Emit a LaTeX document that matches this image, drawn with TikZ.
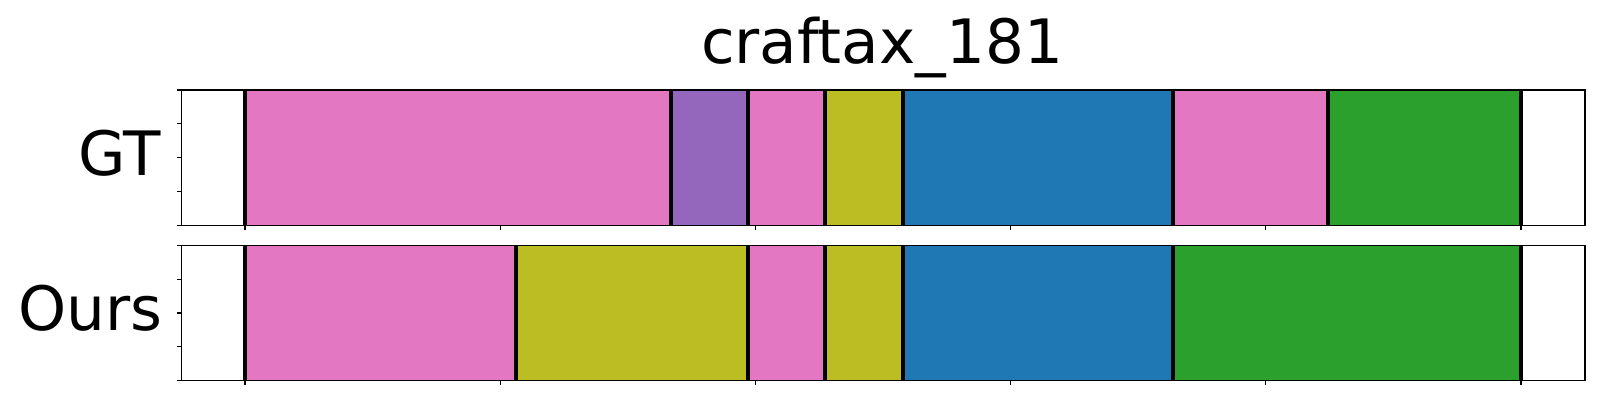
\documentclass[tikz,border=0pt]{standalone}
\usepackage{fontspec}
\setmainfont{DejaVu Sans}
\definecolor{tpink}{HTML}{E377C2}
\definecolor{tpurple}{HTML}{9467BD}
\definecolor{tolive}{HTML}{BCBD22}
\definecolor{tblue}{HTML}{1F77B4}
\definecolor{tgreen}{HTML}{2CA02C}
\tikzset{
  frame/.style={draw=black, line width=0.36pt},
  divider/.style={draw=black, line width=1.2pt},
  tickmark/.style={draw=black, line width=0.3pt},
  bigtext/.style={font=\fontsize{17.4pt}{20pt}\selectfont, inner sep=0pt},
}
\begin{document}
\begin{tikzpicture}[x=0.01cm,y=-0.01cm]
\useasboundingbox (0,0) rectangle (1600,400);
\fill[white] (0,0) rectangle (1600,400);

% title
\node[bigtext, anchor=base] (title) at (882,64) {craftax\_181};

% row labels
\node[bigtext, anchor=base east] (gtlab) at (162,175) {GT};
\node[bigtext, anchor=base east] (ourslab) at (163,330) {Ours};

% GT row segments
\def\gtop{90}\def\gbot{225.3}
\fill[tpink]   (244.7,\gtop) rectangle (671,\gbot);
\fill[tpurple] (671,\gtop) rectangle (747.7,\gbot);
\fill[tpink]   (747.7,\gtop) rectangle (825,\gbot);
\fill[tolive]  (825,\gtop) rectangle (903,\gbot);
\fill[tblue]   (903,\gtop) rectangle (1173,\gbot);
\fill[tpink]   (1173,\gtop) rectangle (1328,\gbot);
\fill[tgreen]  (1328,\gtop) rectangle (1521,\gbot);
\foreach \xx in {244.7,671,747.7,825,903,1173,1328,1521}
  \draw[divider] (\xx,\gtop) -- (\xx,\gbot);

% Ours row segments
\def\otop{245.5}\def\obot{380.5}
\fill[tpink]   (244.7,\otop) rectangle (516,\obot);
\fill[tolive]  (516,\otop) rectangle (747.7,\obot);
\fill[tpink]   (747.7,\otop) rectangle (825,\obot);
\fill[tolive]  (825,\otop) rectangle (903,\obot);
\fill[tblue]   (903,\otop) rectangle (1173,\obot);
\fill[tgreen]  (1173,\otop) rectangle (1521,\obot);
\foreach \xx in {244.7,516,747.7,825,903,1173,1521}
  \draw[divider] (\xx,\otop) -- (\xx,\obot);

% frames
\draw[frame] (181.5,\gtop) rectangle (1585,\gbot);
\draw[frame] (181.5,\otop) rectangle (1585,\obot);

% y ticks
\foreach \k in {0,1,2,3,4} {
  \draw[tickmark] (181.5,\gtop+\k*33.825) -- ++(-5,0);
  \draw[tickmark] (181.5,\otop+\k*33.75) -- ++(-5,0);
}
% x ticks
\foreach \k in {0,1,2,3,4,5} {
  \draw[tickmark] (245+\k*255.2,\gbot) -- ++(0,4.5);
  \draw[tickmark] (245+\k*255.2,\obot) -- ++(0,4.5);
}
\end{tikzpicture}
\end{document}
